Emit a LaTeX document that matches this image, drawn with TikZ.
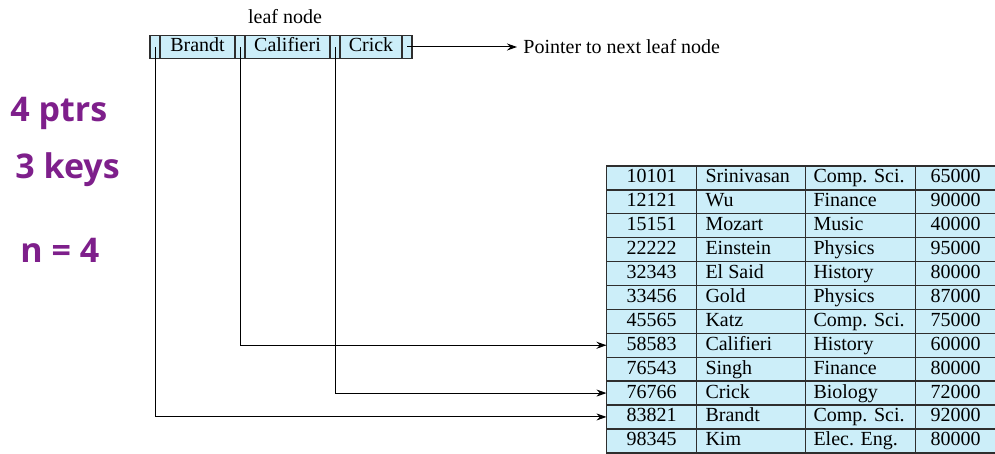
\documentclass[tikz,border=0pt]{standalone}
\usepackage{fontspec}
\setmainfont{Liberation Serif}
\newfontfamily\handfont{Open Sans}
\usepackage{xcolor}
\usetikzlibrary{arrows.meta,positioning}
\definecolor{cellbg}{HTML}{CCEEF9}
\definecolor{inkpurple}{HTML}{7E1F8B}
\definecolor{rulegray}{HTML}{2E2E2E}

\begin{document}
\begin{tikzpicture}[x=0.5pt,y=-0.5pt,font=\fontsize{10}{12}\selectfont]
    \tikzstyle{cell}=[draw=rulegray,line width=0.7pt,fill=cellbg,outer sep=0pt,inner sep=0pt,minimum height=11.5pt,text height=7pt,text depth=2pt]
    \tikzstyle{ptrcell}=[cell,minimum width=5pt]
    \tikzstyle{rowcell}=[cell,minimum height=11.95pt]
    \tikzstyle{idcell}=[rowcell,minimum width=45pt]
    \tikzstyle{namecell}=[rowcell,inner xsep=4.5pt]
    \tikzstyle{deptcell}=[rowcell,inner xsep=4pt]
    \tikzstyle{salcell}=[rowcell,minimum width=40pt]
    \tikzstyle{lnk}=[-{Stealth[length=5pt,width=3.5pt]},line width=0.5pt]
    \tikzstyle{hand}=[text=inkpurple,font=\handfont\bfseries\fontsize{17}{17}\selectfont,anchor=west,inner sep=0pt]
    \useasboundingbox (0,0) rectangle (995,454);
    % leaf node
    \node[ptrcell] (p1) at (155,47) {};
    \node[cell,minimum width=37.5pt,right=0pt of p1] (k1) {Brandt};
    \node[ptrcell,right=0pt of k1] (p2) {};
    \node[cell,minimum width=42.5pt,right=0pt of p2] (k2) {Califieri};
    \node[ptrcell,right=0pt of k2] (p3) {};
    \node[cell,minimum width=31pt,right=0pt of p3] (k3) {Crick};
    \node[ptrcell,right=0pt of k3] (p4) {};
    \node (lbl) at (285,17) {leaf node};
    \node[anchor=west,inner sep=3pt] (nxt) at (517,47) {Pointer to next leaf node};
    % instructor file
    \foreach \sid/\sname/\sdept/\ssal [count=\i] in {
        10101/Srinivasan/Comp. Sci./65000, 12121/Wu/Finance/90000,
        15151/Mozart/Music/40000, 22222/Einstein/Physics/95000,
        32343/El Said/History/80000, 33456/Gold/Physics/87000,
        45565/Katz/Comp. Sci./75000, 58583/Califieri/History/60000,
        76543/Singh/Finance/80000, 76766/Crick/Biology/72000,
        83821/Brandt/Comp. Sci./92000, 98345/Kim/Elec. Eng./80000} {
      \node[idcell] (id\i) at (651.5,{166+23.9*(\i-0.5)}) {\sid};
      \node[namecell,right=0pt of id\i] (nm\i) {\makebox[45.5pt][l]{\sname}};
      \node[deptcell,right=0pt of nm\i] (dp\i) {\makebox[47pt][l]{\sdept}};
      \node[salcell,right=0pt of dp\i] (sl\i) {\ssal};
    }
    \draw[lnk] (p1.center) |- (id11.west);
    \draw[lnk] (p2.center) |- (id8.west);
    \draw[lnk] (p3.center) |- (id10.west);
    \draw[lnk] (p4.center) -- (nxt.west);
    % notes
    \node[hand] (h1) at (10,113) {4 ptrs};
    \node[hand] (h2) at (15,170) {3 keys};
    \node[hand] (h3) at (20,250) {n = 4};
  \end{tikzpicture}
\end{document}
